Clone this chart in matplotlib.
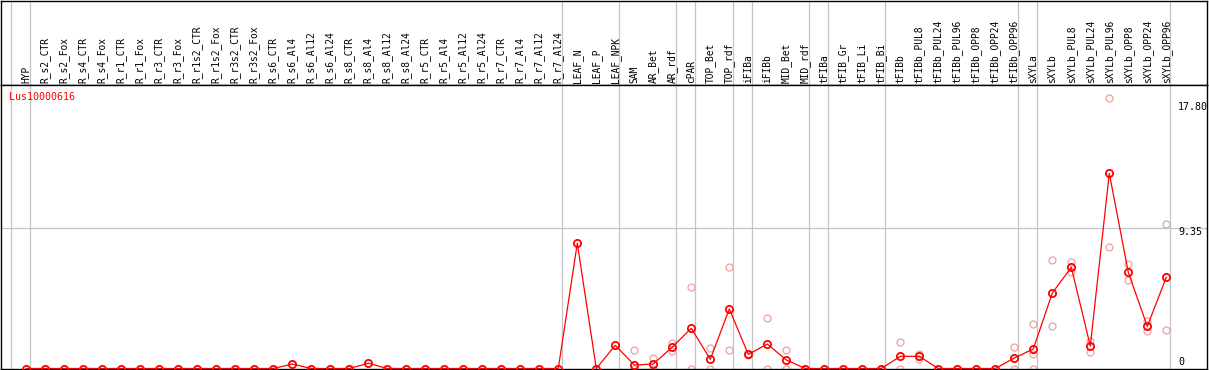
import numpy as np
import matplotlib
matplotlib.use("Agg")
import matplotlib.pyplot as plt

categories = [
    "HYP",
    "R_s2_CTR", "R_s2_Fox", "R_s4_CTR", "R_s4_Fox", "R_r1_CTR", "R_r1_Fox",
    "R_r3_CTR", "R_r3_Fox", "R_r1s2_CTR", "R_r1s2_Fox", "R_r3s2_CTR", "R_r3s2_Fox",
    "R_s6_CTR", "R_s6_Al4", "R_s6_Al12", "R_s6_Al24",
    "R_s8_CTR", "R_s8_Al4", "R_s8_Al12", "R_s8_Al24",
    "R_r5_CTR", "R_r5_Al4", "R_r5_Al12", "R_r5_Al24",
    "R_r7_CTR", "R_r7_Al4", "R_r7_Al12", "R_r7_Al24",
    "LEAF_N", "LEAF_P", "LEAF_NPK", "SAM", "AR_Bet", "AR_rdf", "cPAR",
    "TOP_Bet", "TOP_rdf", "iFIBa", "iFIBb", "MID_Bet", "MID_rdf",
    "tFIBa", "tFIB_Gr", "tFIB_Li", "tFIB_Bi", "tFIBb",
    "tFIBb_PUL8", "tFIBb_PUL24", "tFIBb_PUL96", "tFIBb_OPP8", "tFIBb_OPP24", "tFIBb_OPP96",
    "sXYLa", "sXYLb",
    "sXYLb_PUL8", "sXYLb_PUL24", "sXYLb_PUL96", "sXYLb_OPP8", "sXYLb_OPP24", "sXYLb_OPP96",
]

nan = np.nan
mean_values = [
    0,
    0, 0, 0, 0, 0, 0, 0, 0, 0, 0, 0, 0,
    0, 0.30, 0, 0,
    0, 0.35, 0, 0,
    0, 0, 0, 0,
    0, 0, 0, 0,
    8.35, 0, 1.55, 0.23, 0.30, 1.43, 2.68,
    0.61, 3.97, 0.94, 1.63, 0.57, 0,
    0, 0, 0, 0, 0.81,
    0.81, 0, 0, 0, 0, 0.70,
    1.30, 5.03,
    6.75, 1.50, 13.01, 6.41, 2.81, 6.08,
]

replicate_a = [nan] * 29 + [
    nan, nan, nan, 1.23, 0.72, 1.68, 5.41,
    1.35, 6.75, 0.98, 3.35, 1.23, nan,
    nan, nan, nan, nan, 1.75,
    0.65, nan, nan, nan, nan, 1.43,
    2.94, 7.21,
    7.08, 1.81, 18.01, 6.95, 3.15, 9.61,
]
replicate_b = [nan] * 29 + [
    nan, nan, nan, 0, 0, 1.19, 0,
    0, 1.23, 0.90, 0, 0, nan,
    nan, nan, nan, nan, 0,
    0.97, nan, nan, nan, nan, 0,
    0.99, 2.81,
    6.45, 1.12, 8.08, 5.92, 2.52, 2.55,
]
replicate_c = [nan] * 53 + [0] + [nan] * 7

group_ends = [-1, 0, 28, 31, 34, 35, 37, 38, 41, 42, 45, 52, 53, 60]
gene_name = "Lus10000616"
y_ticks = [17.80, 9.35, 0]
y_tick_labels = ["17.80", "9.35", "0"]

W, H = 1209, 370
fig = plt.figure(figsize=(W / 100, H / 100), dpi=100)

x0_px, step_px = 26.3, 19.0
left_px, right_px = 1, 1207
xl = ((left_px - x0_px) / step_px, (right_px - x0_px) / step_px)

zero_px, unit_px = 368.5, 15.0
plot_bottom_px, plot_top_px = 369, 85

mono = "DejaVu Sans Mono"
grid_c = "#c4c4c4"

# label axes (top)
axl = fig.add_axes([left_px / W, 1 - plot_top_px / H, (right_px - left_px) / W, (plot_top_px - 0.5) / H])
axl.set_xlim(*xl)
axl.set_ylim(0, plot_top_px)
axl.set_xticks([]); axl.set_yticks([])
for s in axl.spines.values():
    s.set_color("black"); s.set_linewidth(1.0)
for g in group_ends:
    axl.axvline(g + 0.2, color=grid_c, lw=0.9, zorder=0)
x = np.arange(len(categories))
for xi, lab in zip(x, categories):
    axl.text(xi, 2.5, lab, rotation=90, ha="center", va="bottom",
             fontsize=6.9, family=mono, color="black")

# plot axes
ax = fig.add_axes([left_px / W, 1 - plot_bottom_px / H, (right_px - left_px) / W,
                   (plot_bottom_px - plot_top_px) / H])
ax.set_xlim(*xl)
ax.set_ylim((zero_px - plot_bottom_px) / unit_px, (zero_px - plot_top_px) / unit_px)
ax.set_xticks([]); ax.set_yticks([])
for s in ax.spines.values():
    s.set_color("black"); s.set_linewidth(1.0)
for g in group_ends:
    ax.axvline(g + 0.2, color=grid_c, lw=0.9, zorder=0)
ax.axhline(y_ticks[1], color=grid_c, lw=0.9, zorder=0)

light = "#f0a0a0"
for rep in (replicate_a, replicate_b, replicate_c):
    ax.plot(x, rep, ls="none", marker="o", ms=5.0, mfc="none", mec=light, mew=0.9,
            zorder=2, clip_on=True)
ax.plot(x, mean_values, color="#ff0000", lw=0.9, marker="o", ms=5.2, mfc="none",
        mec="#ff0000", mew=1.3, zorder=3)

ax.text(-1.33 + 8 / step_px, (zero_px - 97.3) / unit_px, gene_name, color="#ff0000",
        fontsize=7.2, family=mono, ha="left", va="center")

tick_x = (1178 - x0_px) / step_px
tick_y_px = [106.7, 232.3, 361.7]
for lab, ypx in zip(y_tick_labels, tick_y_px):
    ax.text(tick_x, (zero_px - ypx) / unit_px, lab, fontsize=7.2, family=mono,
            ha="left", va="center", color="black", clip_on=True)

fig.savefig("out.png", dpi=100)
